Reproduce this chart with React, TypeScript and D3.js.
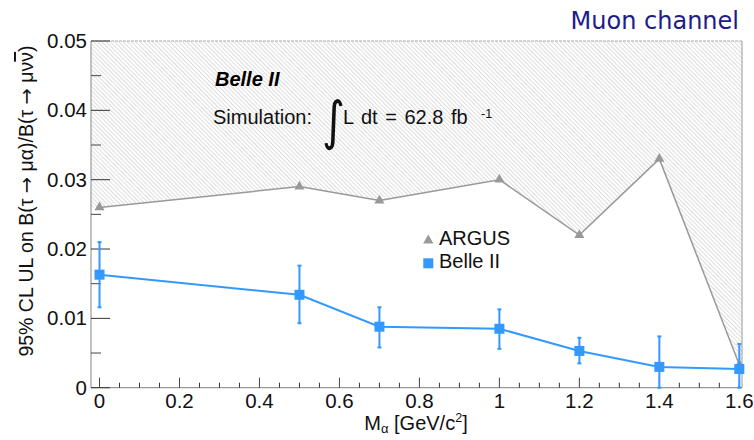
import React from "react";
import * as d3 from "d3";

// Signal mass hypotheses (GeV/c^2)
const massPoints = [0, 0.5, 0.7, 1.0, 1.2, 1.4, 1.6];
// ARGUS 95% CL upper limits
const argusUL = [0.026, 0.029, 0.027, 0.030, 0.022, 0.033, 0.0033];
// Belle II expected 95% CL upper limits with asymmetric bands
const belleUL = [0.0163, 0.0134, 0.0088, 0.0085, 0.0053, 0.0030, 0.0027];
const belleErrHigh = [0.0047, 0.0042, 0.0028, 0.0028, 0.0019, 0.0044, 0.0036];
const belleErrLow = [0.0047, 0.0041, 0.0030, 0.0029, 0.0018, 0.0030, 0.0027];

const xMajorTicks = [0, 0.2, 0.4, 0.6, 0.8, 1.0, 1.2, 1.4, 1.6];
const xTickLabels = ["0", "0.2", "0.4", "0.6", "0.8", "1", "1.2", "1.4", "1.6"];
const yMajorTicks = [0, 0.01, 0.02, 0.03, 0.04, 0.05];
const yTickLabels = ["0", "0.01", "0.02", "0.03", "0.04", "0.05"];

const W = 754;
const H = 440;
const frame = { left: 91, right: 742, top: 41, bottom: 387.7 };
const FONT = "'Liberation Sans', Arial, Helvetica, sans-serif";
const SYM = "'DejaVu Sans', sans-serif";
const BLUE = "#3399ff";
const GREY = "#999999";

export default function App() {
  const x = d3.scaleLinear().domain([-0.0213, 1.6067]).range([frame.left, frame.right]);
  const y = d3.scaleLinear().domain([0, 0.05]).range([frame.bottom, frame.top]);

  const xMinor = d3.range(0, 1.6001, 0.05).filter(
    (v) => !xMajorTicks.some((m) => Math.abs(m - v) < 1e-6)
  );
  const yMinor = d3.range(0.005, 0.05, 0.01);

  const argusPts: [number, number][] = massPoints.map((m, i) => [m, argusUL[i]]);
  const bellePts: [number, number][] = massPoints.map((m, i) => [m, belleUL[i]]);

  const line = d3
    .line<[number, number]>()
    .x((d) => x(d[0]))
    .y((d) => y(d[1]));

  // excluded region above the ARGUS limits, extended to the frame edges
  const excluded: [number, number][] = [
    [x.domain()[0], 0.05],
    [x.domain()[0], argusUL[0]],
    ...argusPts,
    [x.domain()[1], argusUL[argusUL.length - 1]],
    [x.domain()[1], 0.05],
  ];
  const area = line(excluded) + "Z";

  const tri = d3.symbol().type(d3.symbolTriangle).size(44)();
  const legendTri = d3.symbol().type(d3.symbolTriangle).size(46)();
  const sq = 10;

  return (
    <svg
      width={W}
      height={H}
      style={{ position: "absolute", left: 0, top: 0, background: "#fff" }}
      fontFamily={FONT}
    >
      <defs>
        <pattern
          id="hatch"
          width="3"
          height="3"
          patternUnits="userSpaceOnUse"
          patternTransform="rotate(-45)"
        >
          <line x1="0" y1="0" x2="0" y2="3" stroke="#b4b4b4" strokeWidth="0.9" />
        </pattern>
        <clipPath id="frameClip">
          <rect
            x={frame.left}
            y={frame.top}
            width={frame.right - frame.left}
            height={frame.bottom - frame.top}
          />
        </clipPath>
      </defs>

      <rect width={W} height={H} fill="#fff" />

      {/* excluded region */}
      <path d={area} fill="url(#hatch)" stroke="none" clipPath="url(#frameClip)" />

      {/* frame */}
      <line x1={frame.left} x2={frame.right} y1={frame.top} y2={frame.top} stroke="#aaa" strokeWidth={1} strokeDasharray="3,1" />
      <line x1={frame.right} x2={frame.right} y1={frame.top} y2={frame.bottom} stroke="#999" strokeWidth={1} />
      <line x1={frame.left} x2={frame.left} y1={frame.top} y2={frame.bottom} stroke="#999" strokeWidth={1.2} />
      <line x1={frame.left} x2={frame.right} y1={frame.bottom} y2={frame.bottom} stroke="#999" strokeWidth={1.2} />

      {/* y ticks */}
      {yMajorTicks.map((t, i) => (
        <g key={"ym" + i}>
          <line x1={frame.left} x2={frame.left + 19} y1={y(t)} y2={y(t)} stroke="#333" strokeWidth={1} />
          <text x={87} y={y(t) + 7} textAnchor="end" fontSize={20.5} fill="#111">
            {yTickLabels[i]}
          </text>
        </g>
      ))}
      {yMinor.map((t, i) => (
        <line key={"yn" + i} x1={frame.left} x2={frame.left + 10} y1={y(t)} y2={y(t)} stroke="#444" strokeWidth={1} />
      ))}

      {/* x ticks */}
      {xMajorTicks.map((t, i) => (
        <g key={"xm" + i}>
          <line x1={x(t)} x2={x(t)} y1={frame.bottom} y2={frame.bottom - 10} stroke="#444" strokeWidth={1} />
          <text x={x(t)} y={408} textAnchor="middle" fontSize={20.5} fill="#111">
            {xTickLabels[i]}
          </text>
        </g>
      ))}
      {xMinor.map((t, i) => (
        <line key={"xn" + i} x1={x(t)} x2={x(t)} y1={frame.bottom} y2={frame.bottom - 5} stroke="#333" strokeWidth={1} />
      ))}

      {/* ARGUS limits */}
      <path d={line(argusPts) ?? ""} fill="none" stroke={GREY} strokeWidth={1.5} />
      {argusPts.map((p, i) => (
        <path key={"a" + i} d={tri ?? ""} transform={`translate(${x(p[0])},${y(p[1])})`} fill={GREY} />
      ))}

      {/* Belle II limits */}
      <path d={line(bellePts) ?? ""} fill="none" stroke={BLUE} strokeWidth={2} />
      {massPoints.map((m, i) => {
        const cx = x(m);
        const top = y(belleUL[i] + belleErrHigh[i]);
        const bot = y(Math.max(0, belleUL[i] - belleErrLow[i]));
        return (
          <g key={"b" + i}>
            <line x1={cx} x2={cx} y1={top} y2={bot} stroke={BLUE} strokeWidth={2} />
            <line x1={cx - 2} x2={cx + 2} y1={top} y2={top} stroke={BLUE} strokeWidth={2} />
            <line x1={cx - 2} x2={cx + 2} y1={bot} y2={bot} stroke={BLUE} strokeWidth={2} />
            <rect x={cx - sq / 2} y={y(belleUL[i]) - sq / 2} width={sq} height={sq} fill={BLUE} />
          </g>
        );
      })}

      {/* legend */}
      <path d={legendTri ?? ""} transform="translate(428.3,240.5)" fill={GREY} />
      <text x={439} y={245} fontSize={20} fill="#111">ARGUS</text>
      <rect x={428.3 - 5} y={263.3 - 5} width={10} height={10} fill={BLUE} />
      <text x={439} y={268} fontSize={20} fill="#111">Belle II</text>

      {/* experiment label */}
      <text x={215} y={86} fontSize={20} fontWeight="bold" fontStyle="italic" fill="#000">
        Belle II
      </text>
      <text x={213} y={124} fontSize={20} fill="#111">Simulation:</text>
      <text
        x={0}
        y={0}
        fontSize={44}
        fill="#111"
        fontFamily={SYM}
        transform="translate(322,139) scale(1,1.2)"
      >
        ∫
      </text>
      <text x={343} y={124} fontSize={20} fill="#111" wordSpacing={2}>L dt = 62.8 fb</text>
      <text x={481} y={118} fontSize={12.5} fill="#111">-1</text>

      {/* channel title */}
      <text x={739} y={29} textAnchor="end" fontSize={24} fill="#1c1c8c" fontFamily={SYM}>
        Muon channel
      </text>

      {/* axis titles */}
      <text x={416} y={430} textAnchor="middle" fontSize={20} fill="#111">
        M
        <tspan fontSize={13} dy={3}>α</tspan>
        <tspan dy={-3}> [GeV/c</tspan>
        <tspan fontSize={12.5} dy={-8}>2</tspan>
        <tspan dy={8}>]</tspan>
      </text>
      <text
        transform="translate(33,201) rotate(-90)"
        textAnchor="middle"
        fontSize={19.5}
        fill="#111"
      >
        <tspan>95% CL UL on B(τ </tspan>
        <tspan fontFamily={SYM}>→</tspan>
        <tspan> μα)/B(τ </tspan>
        <tspan fontFamily={SYM}>→</tspan>
        <tspan> μν</tspan>
        <tspan style={{ textDecoration: "overline" }}>ν</tspan>
        <tspan>)</tspan>
      </text>
    </svg>
  );
}
